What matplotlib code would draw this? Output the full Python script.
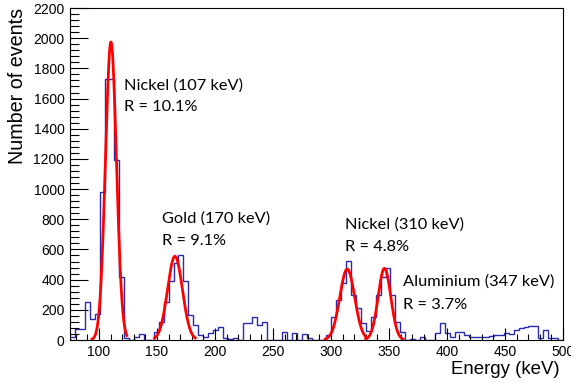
import numpy as np
import matplotlib
matplotlib.use("Agg")
import matplotlib.pyplot as plt
from matplotlib.ticker import MultipleLocator

# Histogram: 100 bins from 75 to 500 keV
e_min, e_max = 75.0, 500.0
counts = [
    22, 73, 73, 250, 140, 170, 980, 1730, 1730, 1190,      # 75-117.5
    415, 10, 0, 22, 40, 0, 0, 55, 121, 254,                # 117.5-160
    390, 510, 560, 390, 165, 99, 33, 20, 44, 66,           # 160-202.5
    87, 13, 5, 15, 0, 110, 115, 150, 100, 121,             # 202.5-245
    0, 0, 0, 55, 0, 49, 0, 37, 15, 0,                      # 245-287.5
    0, 0, 30, 150, 265, 375, 525, 298, 210, 110,           # 287.5-330
    60, 150, 300, 420, 480, 300, 120, 55, 0, 5,            # 330-372.5
    0, 20, 0, 0, 44, 115, 44, 20, 55, 55,                  # 372.5-415
    33, 18, 20, 18, 20, 25, 30, 30, 48, 40,                # 415-457.5
    66, 77, 88, 95, 90, 15, 66, 15, 10, 3,                 # 457.5-500
]
edges = np.linspace(e_min, e_max, len(counts) + 1)

# Gaussian fits: centre (keV), sigma (keV), amplitude, fit range
fit_centres = [110.3, 165.5, 314.0, 346.1]
fit_sigmas = [4.73, 6.4, 6.4, 5.44]
fit_amps = [1975, 555, 470, 475]
fit_lo = [94, 148, 295, 330]
fit_hi = [124, 183, 330, 362]

peak_names = ["Nickel (107 keV)", "Gold (170 keV)", "Nickel (310 keV)", "Aluminium (347 keV)"]
peak_res = ["R = 10.1%", "R = 9.1%", "R = 4.8%", "R = 3.7%"]
label_pos = [(124, 86), (162, 219), (345, 225), (403, 282)]  # figure pixels
label_gap = [21, 22, 22, 23]

W, H = 571, 383
fig = plt.figure(figsize=(W / 100, H / 100), dpi=100)
ax = fig.add_axes([70 / W, (H - 340) / H, (563 - 70) / W, (340 - 8) / H])

ax.stairs(counts, edges, color="#2a2ab0", lw=1.0)

for c, s, a, lo, hi in zip(fit_centres, fit_sigmas, fit_amps, fit_lo, fit_hi):
    x = np.linspace(lo, hi, 300)
    ax.plot(x, a * np.exp(-0.5 * ((x - c) / s) ** 2), color="red", lw=2.0)

ax.set_xlim(e_min, e_max)
ax.set_ylim(0, 2200)
ax.xaxis.set_major_locator(MultipleLocator(50))
ax.xaxis.set_minor_locator(MultipleLocator(10))
ax.yaxis.set_major_locator(MultipleLocator(200))
ax.yaxis.set_minor_locator(MultipleLocator(40))
ax.tick_params(which="both", direction="in", top=False, right=False,
               labelsize=10, width=0.8, colors="black")
ax.tick_params(axis="x", which="major", length=9)
ax.tick_params(axis="x", which="minor", length=4.5)
ax.tick_params(axis="y", which="major", length=13)
ax.tick_params(axis="y", which="minor", length=6.5)
ax.tick_params(axis="y", pad=4)
for lab in ax.get_xticklabels() + ax.get_yticklabels():
    lab.set_fontfamily("Liberation Sans")
for sp in ax.spines.values():
    sp.set_linewidth(0.8)

fig.text(18 / W, 1 - 8 / H, "Number of events", rotation=90, ha="center", va="top",
         fontsize=14.2, family="Liberation Sans")
fig.text(560 / W, 1 - 370 / H, "Energy (keV)", ha="right", va="center",
         fontsize=13.4, family="Liberation Sans")

for (px, py), gap, name, res in zip(label_pos, label_gap, peak_names, peak_res):
    fig.text(px / W, 1 - py / H, name, ha="left", va="center", fontsize=11.8, family="Lato")
    fig.text(px / W, 1 - (py + gap) / H, res, ha="left", va="center", fontsize=11.8, family="Lato")

fig.savefig("out.png", dpi=100)
